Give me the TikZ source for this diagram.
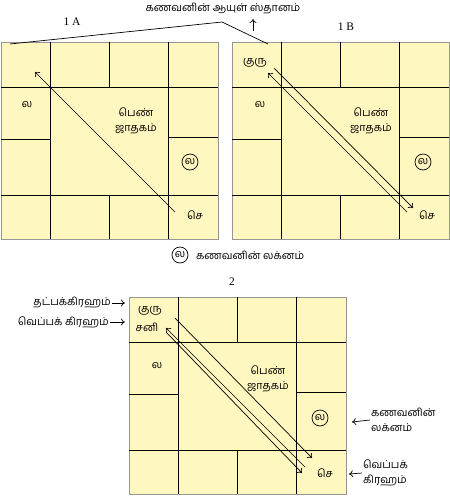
\documentclass[tikz,border=0pt]{standalone}
\usepackage{fontspec}
\setmainfont{Liberation Serif}
\newfontfamily\tamil[Script=Tamil]{Hind Madurai}
\usepackage{tikz}
\usetikzlibrary{arrows.meta}
\definecolor{chartfill}{RGB}{255, 247, 192}
\definecolor{rim}{RGB}{150, 150, 150}
\tikzstyle{tam}=[font=\tamil\fontsize{10.8}{15}\selectfont, inner sep=1pt, align=center]
\tikzstyle{lagna}=[circle, draw, line width=0.7pt, inner sep=0.5pt, minimum size=16pt, font=\tamil\fontsize{10.8}{12}\selectfont]
\tikzstyle{title}=[font=\fontsize{11.5}{13}\selectfont, inner sep=1pt]
\tikzstyle{link}=[line width=0.7pt, -{To[length=4pt, width=7pt]}]
\tikzset{
  rasi/.pic={
    \path[fill=chartfill, draw=rim, line width=1pt] (0,0) rectangle (217,197);
    \draw[line width=0.8pt] (49,0) -- (49,197) (167,0) -- (167,197)
      (0,45) -- (217,45) (0,153) -- (217,153)
      (108,0) -- (108,45) (108,153) -- (108,197)
      (0,97) -- (49,97) (167,95) -- (217,95);
  }
}

\begin{document}
\begin{tikzpicture}[x=1pt, y=-1pt]
      %
      \path[use as bounding box] (0,0) rectangle (450,501);
      %
      % Charts 1A, 1B and 2
      %
      \pic at (1,42) {rasi};
      \pic at (232,42) {rasi};
      \pic at (129,297) {rasi};
      %
      % Heading --> 8th house of both charts
      %
      \node[tam] (ayul) at (223,9) {கணவனின் ஆயுள் ஸ்தானம்};
      \node[title] (labelA) at (72,22) {1 A};
      \node[title] (labelB) at (346,27) {1 B};
      \coordinate (peak) at (222,22);
      \coordinate (ayulA) at (10,44);
      \coordinate (ayulB) at (268,44);
      \draw[line width=0.7pt] (ayulA) -- (peak) -- (ayulB);
      \coordinate (uptail) at (253,31);
      \coordinate (uphead) at (253,19);
      \draw[link] (uptail) -- (uphead);
      %
      % Chart 1A
      %
      \node[tam] (laA) at (27,105) {ல};
      \node[tam] (womanA) at (136,121) {பெண்\\ஜாதகம்};
      \node[lagna] (husA) at (190,162) {ல};
      \node[tam] (sevA) at (195,215) {செ};
      \coordinate (sevAtail) at (175,212);
      \coordinate (sevAhead) at (35,72);
      \draw[link] (sevAtail) -- (sevAhead);
      %
      % Chart 1B
      %
      \node[tam] (guruB) at (255,63) {குரு};
      \node[tam] (laB) at (260,105) {ல};
      \node[tam] (womanB) at (371,121) {பெண்\\ஜாதகம்};
      \node[lagna] (husB) at (423,162) {ல};
      \node[tam] (sevB) at (427,215) {செ};
      \coordinate (guruBtail) at (274,68);
      \coordinate (guruBhead) at (413,208);
      \draw[link] (guruBtail) -- (guruBhead);
      \coordinate (sevBtail) at (407,212);
      \coordinate (sevBhead) at (268,73);
      \draw[link] (sevBtail) -- (sevBhead);
      %
      % Legend and title of chart 2
      %
      \node[lagna] (legend) at (180,255) {ல};
      \node[tam, right=0pt] (legendtext) at (195,255) {கணவனின் லக்னம்};
      \node[title] (label2) at (232,282) {2};
      %
      % Chart 2
      %
      \node[tam] (guru2) at (150,311) {குரு};
      \node[tam] (sani2) at (147,327) {சனி};
      \node[tam] (la2) at (157,366) {ல};
      \node[tam] (woman2) at (268,379) {பெண்\\ஜாதகம்};
      \node[lagna] (hus2) at (320,418) {ல};
      \node[tam] (sev2) at (325,473) {செ};
      \coordinate (guru2tail) at (175,318);
      \coordinate (guru2head) at (312,458);
      \draw[link] (guru2tail) -- (guru2head);
      \coordinate (sani2tail) at (305,467);
      \coordinate (sani2head) at (166,328);
      \draw[link] (sani2tail) -- (sani2head);
      \coordinate (sani2tailb) at (167,333);
      \coordinate (sani2headb) at (302,473);
      \draw[link] (sani2tailb) -- (sani2headb);
      %
      % Side notes of chart 2
      %
      \node[tam, anchor=east] (cool) at (112,303) {தட்பக்கிரஹம்};
      \node[tam, anchor=east] (hot) at (110,322) {வெப்பக் கிரஹம்};
      \coordinate (coolhead) at (125,303);
      \coordinate (hothead) at (125,322);
      \draw[link] (cool.east) -- (coolhead);
      \draw[link] (hot.east) -- (hothead);
      \node[tam, anchor=west, align=left] (husnote) at (370,420) {கணவனின்\\லக்னம்};
      \coordinate (husnotehead) at (352,422);
      \draw[link] (husnote.west) -- (husnotehead);
      \node[tam, anchor=west, align=left] (hotnote) at (362,473) {வெப்பக்\\கிரஹம்};
      \coordinate (hotnotehead) at (349,474);
      \draw[link] (hotnote.west) -- (hotnotehead);
      %
\end{tikzpicture}
\end{document}
